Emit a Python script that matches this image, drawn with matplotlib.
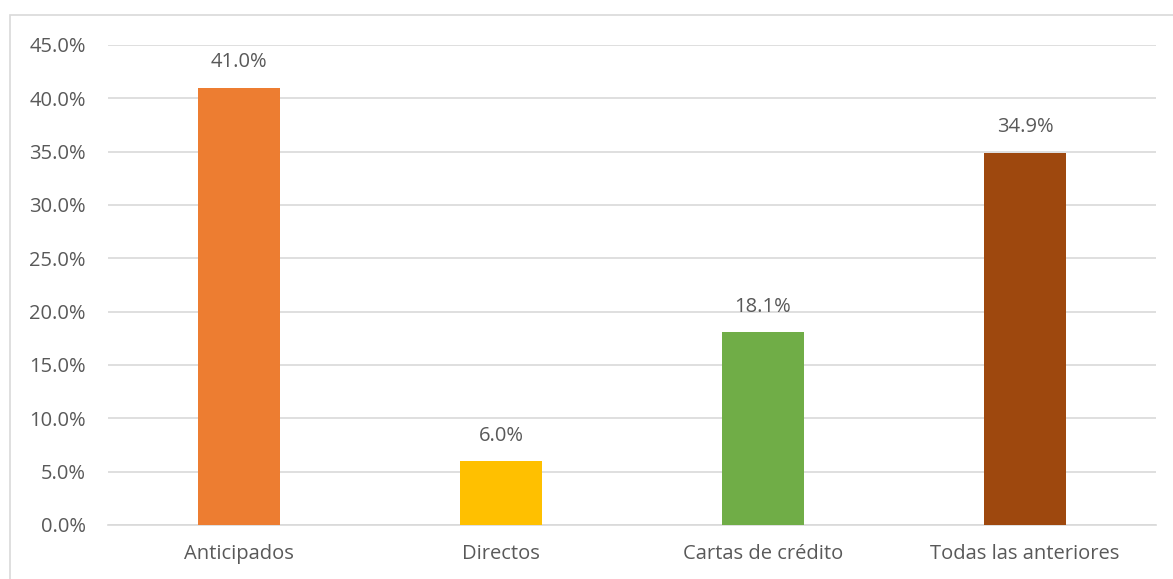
import matplotlib.pyplot as plt
from matplotlib.patches import Rectangle
from matplotlib.ticker import FuncFormatter, MultipleLocator

categories = ["Anticipados", "Directos", "Cartas de crédito", "Todas las anteriores"]
values = [41.0, 6.0, 18.1, 34.9]
colors = ["#ED7D31", "#FFC000", "#70AD47", "#9E480E"]

plt.rcParams["font.family"] = ["Open Sans", "DejaVu Sans"]
text_color = "#595959"

fig = plt.figure(figsize=(11.73, 5.79), dpi=100)
ax = fig.add_axes([108 / 1173, 1 - 525 / 579, (1156 - 108) / 1173, (525 - 45) / 579])

# chart border (Excel-style frame)
fig.patches.append(Rectangle((9.5 / 1173, -0.1), 1.2, 1 - 15.5 / 579 + 0.1,
                             transform=fig.transFigure, fill=False,
                             edgecolor="#D9D9D9", linewidth=1.2))

x = range(len(categories))
ax.bar(x, values, width=0.315, color=colors, zorder=3)

for i, v in enumerate(values):
    ax.annotate(f"{v:.1f}%", (i, v), xytext=(0, 11), textcoords="offset points",
                ha="center", va="bottom", fontsize=14.5, color=text_color)

ax.set_xlim(-0.5, 3.5)
ax.set_ylim(0, 45)
ax.yaxis.set_major_locator(MultipleLocator(5))
ax.yaxis.set_major_formatter(FuncFormatter(lambda y, _: f"{y:.1f}%"))
ax.set_xticks(list(x))
ax.set_xticklabels(categories)

ax.grid(axis="y", color="#D9D9D9", linewidth=1.2, zorder=0)
for s in ["top", "right", "left"]:
    ax.spines[s].set_visible(False)
ax.spines["bottom"].set_color("#D9D9D9")
ax.spines["bottom"].set_linewidth(1.2)
ax.tick_params(axis="both", length=0, labelsize=14.5, colors=text_color)
ax.tick_params(axis="y", pad=16)
ax.tick_params(axis="x", pad=14)

fig.savefig("out.png", dpi=100)
